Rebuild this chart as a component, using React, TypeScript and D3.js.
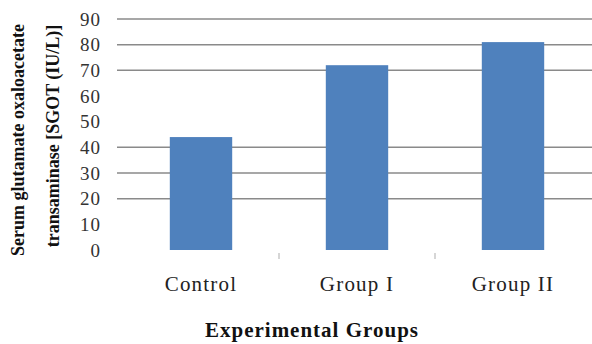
import React from "react";
import * as d3 from "d3";

const categories = ["Control", "Group I", "Group II"];
const values = [44, 72, 81];
const yTicks = [0, 10, 20, 30, 40, 50, 60, 70, 80, 90];
const gridValues = [20, 30, 40, 70, 80, 90];
const xTitle = "Experimental Groups";
const yTitleLines = ["Serum glutamate oxaloacetate", "transaminase [SGOT (IU/L)]"];

export default function App() {
  const W = 592, H = 344;
  const x = d3.scaleBand<string>().domain(categories).range([123, 591]).paddingInner(0.6).paddingOuter(0.3);
  const y = d3.scaleLinear().domain([0, 90]).range([250, 19]);
  const step = x.step();
  const x0 = 123;
  const font = "'Liberation Serif', 'Times New Roman', serif";
  return (
    <svg width={W} height={H} style={{ position: "absolute", left: 0, top: 0, background: "#fff" }}>
      <rect x={0} y={0} width={W} height={H} fill="#fff" />
      {gridValues.map((v) => (
        <line key={v} x1={117} x2={592} y1={y(v)} y2={y(v)} stroke="#8a8a8a" strokeWidth={1.5} />
      ))}
      {categories.map((c, i) => (
        <rect key={c} x={x(c)} y={y(values[i])} width={x.bandwidth()} height={y(0) - y(values[i])} fill="#4f81bd" />
      ))}
      {[1, 2].map((k) => (
        <line key={k} x1={x0 + k * step} x2={x0 + k * step} y1={253} y2={259} stroke="#c8c8c8" strokeWidth={1.5} />
      ))}
      {yTicks.map((t) => (
        <text key={t} x={101} y={y(t)} dy="0.35em" textAnchor="end" fontFamily={font} fontSize={19} letterSpacing={1} fill="#333">
          {t}
        </text>
      ))}
      {categories.map((c) => (
        <text key={c} x={(x(c) as number) + x.bandwidth() / 2} y={291} textAnchor="middle" fontFamily={font} fontSize={21} letterSpacing={1.2} fill="#222">
          {c}
        </text>
      ))}
      <text x={312} y={337} textAnchor="middle" fontFamily={font} fontSize={21} fontWeight="bold" letterSpacing={1} fill="#111">
        {xTitle}
      </text>
      {yTitleLines.map((l, i) => (
        <text key={l} transform={`translate(${24 + i * 35},${140 - i * 4}) rotate(-90)`} textAnchor="middle" fontFamily={font} fontSize={18} fontWeight="bold" fill="#111">
          {l}
        </text>
      ))}
    </svg>
  );
}
